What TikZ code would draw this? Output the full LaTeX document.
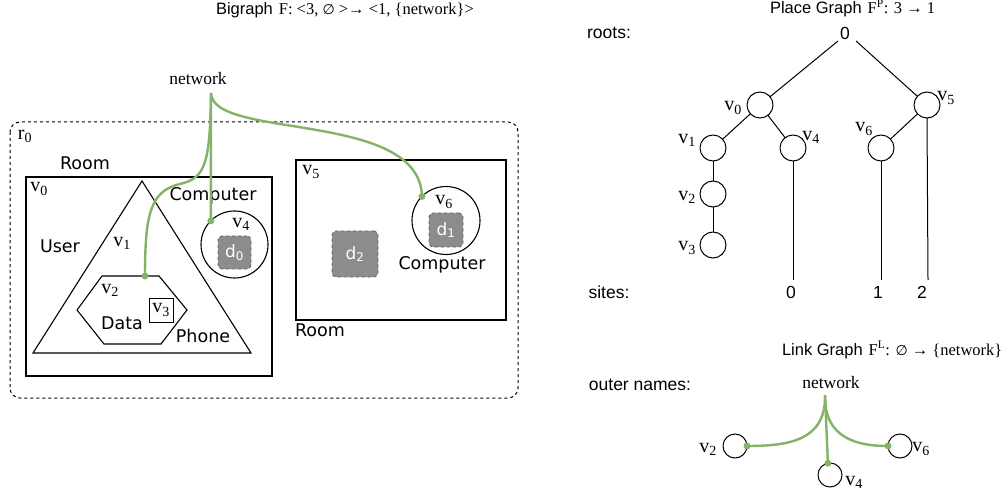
\documentclass[tikz,border=0pt]{standalone}
\usepackage{fontspec}
\setmainfont{Liberation Serif}
\newfontfamily\dvs{DejaVu Sans}
\newfontfamily\ars{Liberation Sans}
\definecolor{lgreen}{HTML}{82B366}
\definecolor{dgray}{HTML}{8C8C8C}
\definecolor{bgray}{HTML}{666666}
\begin{document}
\begin{tikzpicture}[x=1pt,y=-1pt,
  every node/.style={inner sep=0pt, outer sep=0pt},
  sans/.style={font=\dvs\fontsize{17.5}{20}\selectfont},
  arl/.style={font=\ars\fontsize{17.5}{20}\selectfont},
  ser/.style={font=\fontsize{17.5}{20}\selectfont},
  vlab/.style={font=\fontsize{20}{22}\selectfont},
  box/.style={draw, line width=1.1pt},
  dbox/.style={fill=dgray, draw=bgray, dashed, rounded corners=4pt, line width=0.9pt, text=white, font=\dvs\fontsize{17}{20}\selectfont},
  circ/.style={circle, draw, line width=1.1pt},
  pcirc/.style={circle, draw, line width=1pt, minimum size=26pt},
  link/.style={draw=lgreen, line width=2.4pt},
  port/.style={circle, fill=lgreen, minimum size=7pt},
  tree/.style={line width=1pt}]
\useasboundingbox (0,0) rectangle (1008,494);

% ---------- Bigraph ----------
\node[anchor=base west] (btitle) at (216,15) {{\ars\fontsize{16.5}{19}\selectfont Bigraph}\hspace{6pt}{\fontsize{16.5}{19}\selectfont F: <3, {\dvs\fontsize{14}{19}\selectfont ∅} >→ <1, \{network\}>}};

\draw[dashed, line width=1pt, rounded corners=10pt] (10,122) rectangle (518,398);
\node[vlab] (r0) at (25,136) {r\textsubscript{0}};

% Room v0
\node[sans] (room1) at (85,163) {Room};
\draw[box] (26,177) rectangle (272,376);
\node[vlab] (lv0) at (39,189) {v\textsubscript{0}};

% triangle (phone)
\draw[line width=1.1pt] (142,181) -- (251,353) -- (33,353) -- cycle;
\node[sans] (user) at (60,246) {User};
\node[vlab] (lv1) at (122,243) {v\textsubscript{1}};
\node[sans] (phone) at (203,336) {Phone};

% hexagon (data)
\draw[line width=1.1pt] (102,276) -- (159,276) -- (187,310) -- (161,344) -- (104,344) -- (77,310) -- cycle;
\coordinate (hexport) at (145,276);
\node[vlab] (lv2) at (110,290) {v\textsubscript{2}};
\node[sans] (data) at (122,323) {Data};
\node[draw, line width=1pt, minimum width=24pt, minimum height=24pt] (v3box) at (161,310) {};
\node[vlab] (lv3) at (161,310) {v\textsubscript{3}};

% computer v4
\node[sans] (comp1) at (213,196) {Computer};
\node[circ, minimum size=67pt] (cv4) at (234.5,244.5) {};
\node[vlab] (lv4) at (241,224) {v\textsubscript{4}};
\node[dbox, minimum width=33pt, minimum height=33pt] (d0) at (234.5,252.5) {d\textsubscript{0}};

% Room v5
\draw[box] (296,160) rectangle (506,320);
\node[vlab] (lv5) at (311,172) {v\textsubscript{5}};
\node[sans] (room2) at (320,330) {Room};
\node[dbox, minimum width=46pt, minimum height=46pt] (d2) at (355,254) {d\textsubscript{2}};

% computer v6
\node[circ, minimum size=68pt] (cv6) at (446,220.5) {};
\node[vlab] (lv6) at (444,202) {v\textsubscript{6}};
\node[dbox, minimum width=34pt, minimum height=34pt] (d1) at (446,230) {d\textsubscript{1}};
\node[sans] (comp2) at (442,265) {Computer};

% links
\node[ser, anchor=base] (netL) at (198,85) {network};
\coordinate (lnk) at (211,93);
\draw[link] (lnk) -- (cv4.135);
\draw[link] (lnk) .. controls (212,140) and (420,110) .. (cv6.135);
\draw[link] (lnk) .. controls (210,165) and (205,178) .. (180,184) .. controls (150,191) and (145,215) .. (hexport);
\node[port] (p1) at (cv4.135) {};
\node[port] (p2) at (cv6.135) {};
\node[port] (p3) at (hexport) {};

% ---------- Place graph ----------
\node[anchor=base west] (ptitle) at (770,14) {{\ars\fontsize{16.5}{19}\selectfont Place Graph}\hspace{6pt}{\fontsize{16.5}{19}\selectfont F\textsuperscript{P}: 3 → 1}};
\node[arl] (roots) at (609,33) {roots:};
\node[arl] (root0) at (845,33) {0};

\node[pcirc] (t0) at (760,105) {};
\node[pcirc] (t5) at (927,105) {};
\node[pcirc] (t1) at (713,148) {};
\node[pcirc] (t4) at (793,148) {};
\node[pcirc] (t6) at (881,148) {};
\node[pcirc] (t2) at (713,194) {};
\node[pcirc] (t3) at (713,245) {};

\node[vlab] (lt0) at (733,108) {v\textsubscript{0}};
\node[vlab] (lt5) at (946,98) {v\textsubscript{5}};
\node[vlab] (lt1) at (687,140) {v\textsubscript{1}};
\node[vlab] (lt4) at (811,137) {v\textsubscript{4}};
\node[vlab] (lt6) at (864,129) {v\textsubscript{6}};
\node[vlab] (lt2) at (687,197) {v\textsubscript{2}};
\node[vlab] (lt3) at (687,248) {v\textsubscript{3}};

\node[arl] (sites) at (609,292) {sites:};
\node[arl] (s0) at (791,292) {0};
\node[arl] (s1) at (878,292) {1};
\node[arl] (s2) at (922,292) {2};

\coordinate (rl) at (838,41);
\coordinate (rr) at (856,41);
\coordinate (e0) at (793,280);
\coordinate (e1) at (881,280);
\coordinate (e2) at (928,280);
\draw[tree] (rl) -- (t0);
\draw[tree] (rr) -- (t5);
\draw[tree] (t0) -- (t1);
\draw[tree] (t0) -- (t4);
\draw[tree] (t1) -- (t2);
\draw[tree] (t2) -- (t3);
\draw[tree] (t5) -- (t6);
\draw[tree] (t4.south) -- (e0);
\draw[tree] (t6.south) -- (e1);
\draw[tree] (t5.south) -- (e2);

% ---------- Link graph ----------
\node[anchor=base west] (ltitle) at (782,355) {{\ars\fontsize{16.5}{19}\selectfont Link Graph}\hspace{6pt}{\fontsize{16.5}{19}\selectfont F\textsuperscript{L}: {\dvs\fontsize{14}{19}\selectfont ∅} → \{network\}}};
\node[arl] (outer) at (640,385) {outer names:};
\node[ser, anchor=base] (netR) at (831,388) {network};
\coordinate (lg) at (825,395);

\node[pcirc, minimum size=24pt] (g2) at (735,446) {};
\node[pcirc, minimum size=24pt] (g6) at (900,446) {};
\node[pcirc, minimum size=24pt] (g4) at (830,475) {};
\node[vlab] (lg2) at (708,449) {v\textsubscript{2}};
\node[vlab] (lg6) at (921,449) {v\textsubscript{6}};
\node[vlab] (lg4) at (854,482) {v\textsubscript{4}};

\draw[link] (lg) .. controls (826,440) and (790,446) .. (g2.east);
\draw[link] (lg) .. controls (824,440) and (860,446) .. (g6.west);
\draw[link] (lg) -- (g4.100);
\node[port] (q2) at (g2.east) {};
\node[port] (q6) at (g6.west) {};
\node[port] (q4) at (g4.100) {};
\end{tikzpicture}
\end{document}
